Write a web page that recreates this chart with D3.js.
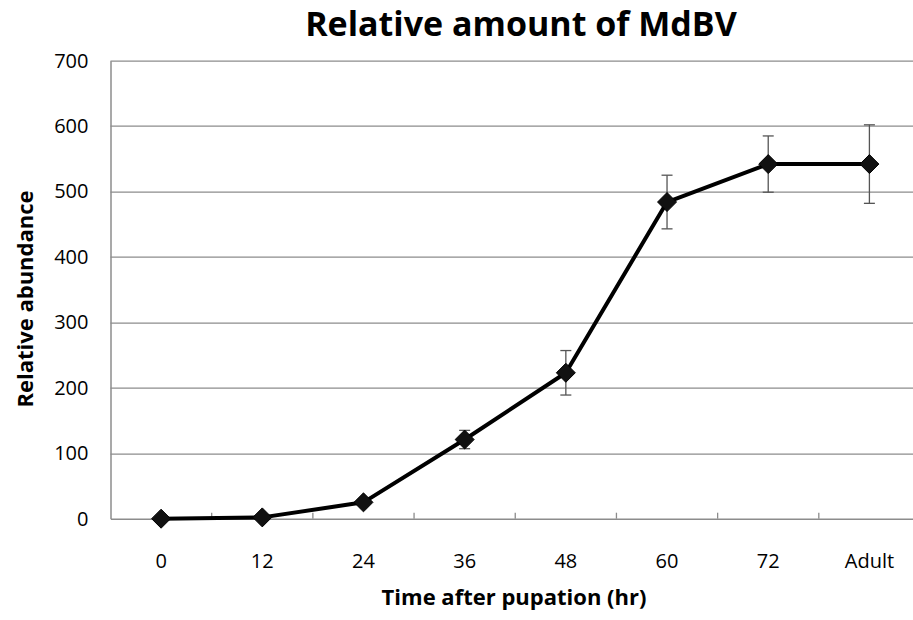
<!DOCTYPE html>
<html>
<head>
<meta charset="utf-8">
<script src="https://cdn.jsdelivr.net/npm/d3@7"></script>
<style>
	body { margin: 0; background: #fff; }
	text { font-family: "Open Sans", "Noto Sans", sans-serif; fill: #000; }
</style>
</head>
<body>
<div id="chartDiv"></div>
<script>
;(function() {

	var categories = ["0", "12", "24", "36", "48", "60", "72", "Adult"];
	var values = [0, 2, 25, 121, 223, 484, 542, 542];
	var errors = [2, 3, 5, 14, 34, 41, 43, 60];
	var yTicks = [0, 100, 200, 300, 400, 500, 600, 700];

	var width = 913;
	var height = 620;
	var margin = { top: 60.7, right: -7, bottom: 101.3, left: 110.5 };

	var chartWidth = width - margin.left - margin.right;
	var chartHeight = height - margin.top - margin.bottom;

	var svg = d3.select("#chartDiv").append("svg")
		.attr("width", width)
		.attr("height", height);

	var plot = svg.append("g")
		.attr("transform", "translate(" + margin.left + "," + margin.top + ")");

	var xScale = d3.scaleBand()
		.domain(categories)
		.range([0, chartWidth]);

	var yScale = d3.scaleLinear()
		.domain([0, 700])
		.range([chartHeight, 0]);

	// gridlines
	plot.selectAll(".grid")
		.data(yTicks.slice(1))
		.enter().append("line")
		.attr("class", "grid")
		.attr("x1", 0)
		.attr("x2", chartWidth)
		.attr("y1", function(d) { return Math.round(yScale(d)) + 0.5; })
		.attr("y2", function(d) { return Math.round(yScale(d)) + 0.5; })
		.style("stroke", "#8c8c8c")
		.style("stroke-width", 1.3);

	// y axis
	var yAxis = d3.axisLeft(yScale).tickValues(yTicks).tickSize(0).tickPadding(22);
	var yG = plot.append("g").call(yAxis);
	yG.select(".domain").style("stroke", "#8c8c8c").style("stroke-width", 1.5);
	yG.selectAll("text").style("font-size", "20px").style("fill", "#000");

	// x axis, ticks point inward
	var xAxis = d3.axisBottom(xScale).tickSize(0).tickPadding(35);
	var xG = plot.append("g")
		.attr("transform", "translate(0," + chartHeight + ")")
		.call(xAxis);
	xG.select(".domain").style("stroke", "#8c8c8c").style("stroke-width", 1.5);
	xG.selectAll("text").style("font-size", "20px").style("fill", "#000");

	xG.selectAll(".sep")
		.data(categories.slice(1))
		.enter().append("line")
		.attr("class", "sep")
		.attr("x1", function(d) { return xScale(d); })
		.attr("x2", function(d) { return xScale(d); })
		.attr("y1", 0)
		.attr("y2", -6)
		.style("stroke", "#8c8c8c")
		.style("stroke-width", 1.3);

	var cx = function(d, i) { return xScale(categories[i]) + xScale.bandwidth() / 2; };

	// error bars
	var eb = plot.selectAll(".err")
		.data(values)
		.enter().append("g")
		.attr("class", "err")
		.style("stroke", "#555")
		.style("stroke-width", 1.3);

	eb.append("line")
		.attr("x1", cx).attr("x2", cx)
		.attr("y1", function(d, i) { return yScale(d + errors[i]); })
		.attr("y2", function(d, i) { return yScale(d - errors[i]); });
	eb.append("line")
		.attr("x1", function(d, i) { return cx(d, i) - 5.5; })
		.attr("x2", function(d, i) { return cx(d, i) + 5.5; })
		.attr("y1", function(d, i) { return yScale(d + errors[i]); })
		.attr("y2", function(d, i) { return yScale(d + errors[i]); });
	eb.append("line")
		.attr("x1", function(d, i) { return cx(d, i) - 5.5; })
		.attr("x2", function(d, i) { return cx(d, i) + 5.5; })
		.attr("y1", function(d, i) { return yScale(d - errors[i]); })
		.attr("y2", function(d, i) { return yScale(d - errors[i]); });

	// line
	var line = d3.line()
		.x(function(d, i) { return cx(d, i); })
		.y(function(d) { return yScale(d); });

	plot.append("path")
		.datum(values)
		.attr("d", line)
		.style("fill", "none")
		.style("stroke", "#000")
		.style("stroke-width", 4)
		.style("stroke-linejoin", "round");

	// diamond markers
	plot.selectAll(".dot")
		.data(values)
		.enter().append("path")
		.attr("class", "dot")
		.attr("d", d3.symbol().type(d3.symbolDiamond2).size(230))
		.attr("transform", function(d, i) { return "translate(" + cx(d, i) + "," + yScale(d) + ")"; })
		.style("fill", "#111")
		.style("stroke", "#000")
		.style("stroke-width", 1);

	// title
	svg.append("text")
		.attr("x", 521)
		.attr("y", 36)
		.attr("text-anchor", "middle")
		.style("font-size", "34px")
		.style("font-weight", "bold")
		.text("Relative amount of MdBV");

	// x axis header
	svg.append("text")
		.attr("x", 514)
		.attr("y", 605)
		.attr("text-anchor", "middle")
		.style("font-size", "22px")
		.style("font-weight", "bold")
		.text("Time after pupation (hr)");

	// y axis header
	svg.append("text")
		.attr("text-anchor", "middle")
		.attr("transform", "translate(33,299) rotate(-90)")
		.style("font-size", "22px")
		.style("font-weight", "bold")
		.text("Relative abundance");

})();
</script>
</body>
</html>
